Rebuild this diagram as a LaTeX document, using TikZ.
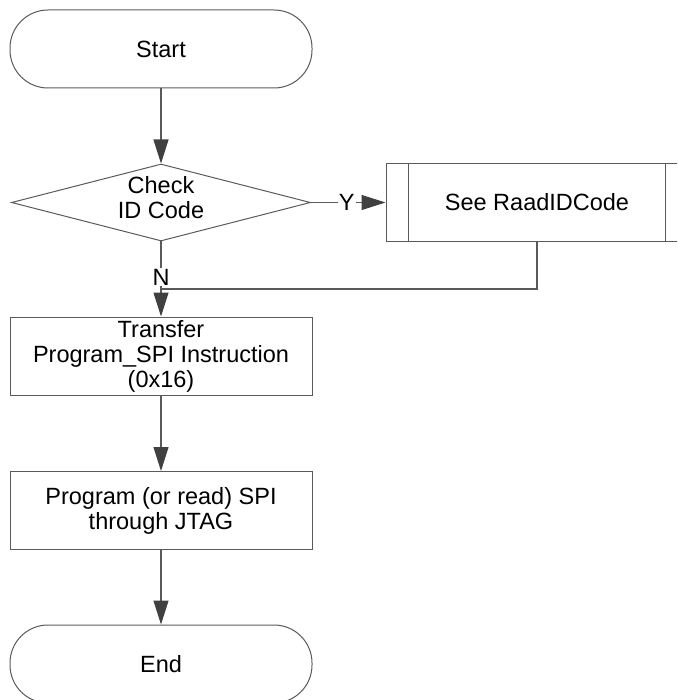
\documentclass[tikz,border=0pt]{standalone}
\usepackage{fontspec}
\setmainfont{Liberation Sans}
\usetikzlibrary{arrows.meta,shapes.geometric}
\definecolor{linegray}{HTML}{5A5A5A}
\definecolor{tipgray}{HTML}{404040}
\begin{document}
\begin{tikzpicture}[x=1pt,y=-1pt,
  every node/.style={font=\fontsize{23.5}{25}\selectfont, text=black},
  terminal/.style={draw=linegray, line width=1pt, minimum width=302pt, minimum height=78pt, rounded corners=38pt, inner sep=0pt},
  procbox/.style={draw=linegray, line width=1pt, minimum width=302pt, minimum height=78pt, align=center, inner sep=0pt},
  decision/.style={draw=linegray, line width=1pt, diamond, aspect=3.9, minimum width=299pt, minimum height=77pt, inner sep=0pt, align=center},
  flow/.style={draw=linegray, line width=1.1pt, -{Triangle[length=24pt,width=15pt,fill=tipgray,color=tipgray]}},
  plain/.style={draw=linegray, line width=1.1pt},
  lbl/.style={fill=white, inner sep=1pt}
]
\useasboundingbox (0,0) rectangle (677,700);
\begin{scope}
\clip (0,0) rectangle (677,700);
\node[terminal] (start) at (161,49) {Start};
\node[decision, shape aspect=3.9] (dec) at (161,202.5) {};
\node (dectext) at (161,198) [align=center] {Check\\ID Code};
\node[procbox] (sub) at (537,202.5) {See RaadIDCode};
\draw[linegray, line width=1pt] ([xshift=23pt]sub.north west) -- ([xshift=23pt]sub.south west);
\draw[linegray, line width=1pt] ([xshift=-23pt]sub.north east) -- ([xshift=-23pt]sub.south east);
\node[procbox] (tr) at (161,356) {Transfer\\Program\_SPI Instruction\\(0x16)};
\node[procbox] (prog) at (161,510.5) {Program (or read) SPI\\through JTAG};
\node[terminal] (end) at (161,664) {End};
\coordinate (join) at (161,289);

\draw[flow] (start) -- (dec);
\draw[flow] (dec.east) -- (sub.west) node[lbl, pos=0.48] (y) {Y};
\draw[flow] (dec.south) -- (tr.north);
\node[lbl] (n) at (161,277) {N};
\draw[plain] (sub.south) |- (join);
\draw[flow] (tr) -- (prog);
\draw[flow] (prog) -- (end);
\end{scope}
\end{tikzpicture}
\end{document}
